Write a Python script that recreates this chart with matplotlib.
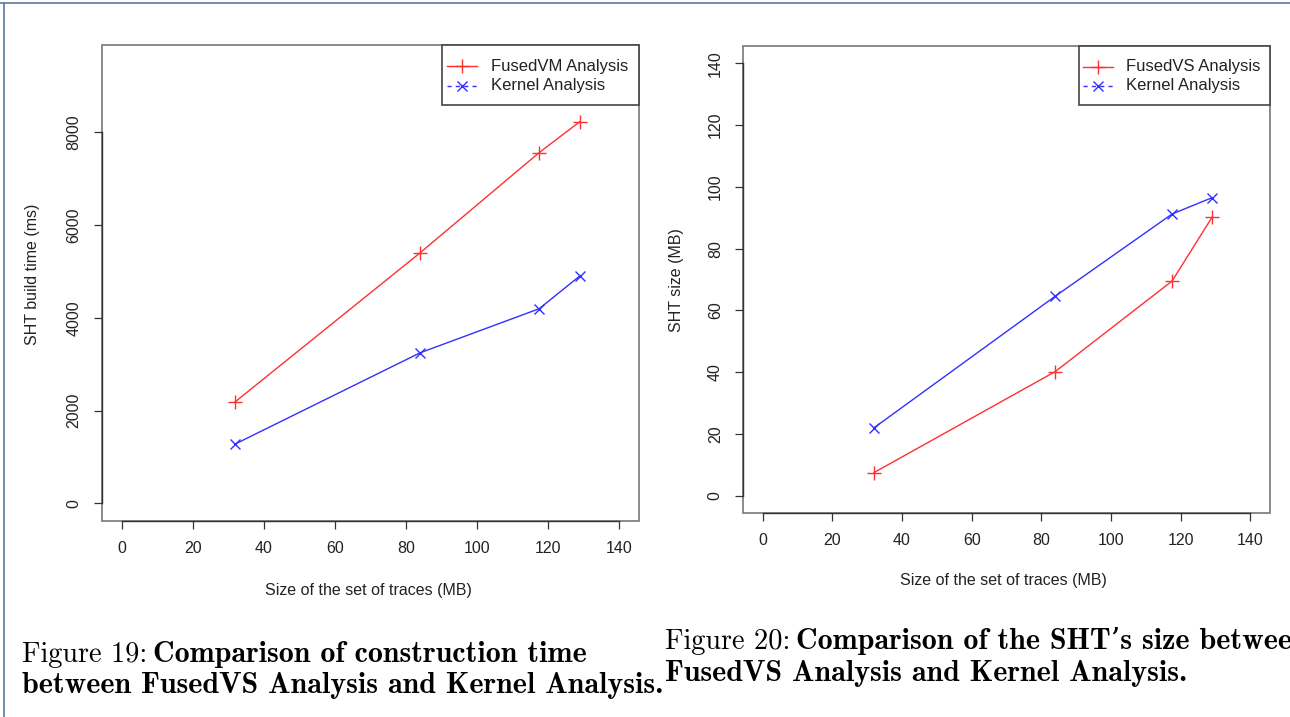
import matplotlib
matplotlib.use("Agg")
import matplotlib.pyplot as plt
from matplotlib.lines import Line2D
from matplotlib.patches import Rectangle

# ---- data ----
trace_sizes = [32, 84, 117.5, 129]
build_fusedvm = [2190, 5400, 7560, 8230]
build_kernel = [1280, 3245, 4195, 4905]
size_fusedvs = [7.5, 40.2, 69.5, 90.2]
size_kernel = [22.0, 64.6, 91.2, 96.5]
x_ticks = [0, 20, 40, 60, 80, 100, 120, 140]
y_ticks_left = [0, 2000, 4000, 6000, 8000]
y_ticks_right = [0, 20, 40, 60, 80, 100, 120, 140]
legend_left = ["FusedVM Analysis", "Kernel Analysis"]
legend_right = ["FusedVS Analysis", "Kernel Analysis"]

W, H = 1290, 717
fig = plt.figure(figsize=(W / 100, H / 100), dpi=100)
fig.patch.set_facecolor("white")

SANS = ["Liberation Sans", "DejaVu Sans"]
RED = "#ff3030"
BLUE = "#3030ff"


def fx(x):
    return x / W


def fy(y):
    return 1 - y / H


def px_axes(x0, y0, x1, y1):
    return fig.add_axes([fx(x0), fy(y1), (x1 - x0) / W, (y1 - y0) / H])


def style(ax, xlim, ylim, yt):
    ax.set_xlim(*xlim)
    ax.set_ylim(*ylim)
    for s in ["top", "right"]:
        ax.spines[s].set_visible(False)
    ax.spines["left"].set_bounds(yt[0], yt[-1])
    ax.spines["bottom"].set_bounds(x_ticks[0], x_ticks[-1])
    for s in ["left", "bottom"]:
        ax.spines[s].set_color("#333333")
        ax.spines[s].set_linewidth(1.0)
    ax.add_patch(Rectangle((0, 0), 1, 1, transform=ax.transAxes, fill=False,
                           edgecolor="#777777", lw=1.2, zorder=0.5, clip_on=False))
    ax.set_xticks(x_ticks)
    ax.set_yticks(yt)
    ax.tick_params(direction="out", length=5.5, width=0.9, color="#333333",
                   labelsize=11.5, labelcolor="#222222", pad=9)
    ax.tick_params(axis="y", labelrotation=90)
    for lab in ax.get_yticklabels():
        lab.set_va("center")
        lab.set_family(SANS)
    for lab in ax.get_xticklabels():
        lab.set_family(SANS)


def legend(box, rows, lx0, lx1, tx, names):
    x0, y0, x1, y1 = box
    fig.add_artist(Rectangle((fx(x0), fy(y1)), (x1 - x0) / W, (y1 - y0) / H,
                             transform=fig.transFigure, facecolor="white",
                             edgecolor="#444444", lw=1.2, zorder=5))
    styles = [(RED, "-", "+", 10), (BLUE, (0, (3, 3)), "x", 7)]
    for (c, ls, m, ms), yy, name in zip(styles, rows, names):
        fig.add_artist(Line2D([fx(lx0), fx(lx1)], [fy(yy), fy(yy)], transform=fig.transFigure,
                              color=c, lw=1.0, ls=ls, zorder=6))
        fig.add_artist(Line2D([fx((lx0 + lx1) / 2)], [fy(yy)], transform=fig.transFigure,
                              color=c, marker=m, markersize=ms, markeredgewidth=1.0, ls="none", zorder=6))
        fig.text(fx(tx), fy(yy), name, family=SANS, fontsize=12, color="#222222",
                 ha="left", va="center", zorder=7)


# ---- left panel ----
axL = px_axes(101.6, 45, 639, 521)
style(axL, (-5.6, 145.6), (-380, 9880), y_ticks_left)
axL.plot(trace_sizes, build_fusedvm, color=RED, lw=1.0, marker="+", markersize=10, markeredgewidth=1.0)
axL.plot(trace_sizes, build_kernel, color=BLUE, lw=1.0, marker="x", markersize=7, markeredgewidth=1.0)
legend((442, 45, 639, 105), (66, 85.5), 447, 477, 491, legend_left)

# ---- right panel ----
axR = px_axes(743, 46, 1270, 513)
style(axR, (-5.6, 145.6), (-5.6, 145.6), y_ticks_right)
axR.plot(trace_sizes, size_fusedvs, color=RED, lw=1.0, marker="+", markersize=10, markeredgewidth=1.0)
axR.plot(trace_sizes, size_kernel, color=BLUE, lw=1.0, marker="x", markersize=7, markeredgewidth=1.0)
legend((1079, 46, 1270, 105), (66.5, 85.5), 1083, 1113, 1126, legend_right)

# axis labels
lab_kw = dict(family=SANS, fontsize=11.5, color="#222222")
fig.text(fx(368), fy(591), "Size of the set of traces (MB)", ha="center", va="center", **lab_kw)
fig.text(fx(33), fy(274), "SHT build time (ms)", ha="center", va="center", rotation=90, **lab_kw)
fig.text(fx(1003), fy(580), "Size of the set of traces (MB)", ha="center", va="center", **lab_kw)
fig.text(fx(676), fy(280), "SHT size (MB)", ha="center", va="center", rotation=90, **lab_kw)

# captions
renderer = fig.canvas.get_renderer()
CAP = 21.6
CAP_REG = 20.4


def caption(x, y, pre, bold):
    t = fig.text(fx(x), fy(y), pre, family=["cmr10", "DejaVu Serif"], fontsize=CAP_REG,
                 ha="left", va="baseline", color="black")
    bb = t.get_window_extent(renderer)
    fig.text(fx(bb.x1 + 6), fy(y), bold, family=["cmb10", "DejaVu Serif"],
             fontsize=CAP, ha="left", va="baseline", color="black")


def boldline(x, y, s):
    fig.text(fx(x), fy(y), s, family=["cmb10", "DejaVu Serif"], fontsize=CAP,
             ha="left", va="baseline", color="black")


caption(22, 662, "Figure 19:", "Comparison of construction time")
boldline(22, 693, "between FusedVS Analysis and Kernel Analysis.")
caption(665, 649, "Figure 20:", "Comparison of the SHT\u2019s size betwee")
boldline(665, 681, "FusedVS Analysis and Kernel Analysis.")

# page frame lines
border = "#5b7aa6"
fig.add_artist(Line2D([0, 1], [fy(3), fy(3)], transform=fig.transFigure, color=border, lw=1.2))
fig.add_artist(Line2D([fx(4), fx(4)], [0, fy(3)], transform=fig.transFigure, color=border, lw=1.2))

fig.savefig("out.png", dpi=100)
